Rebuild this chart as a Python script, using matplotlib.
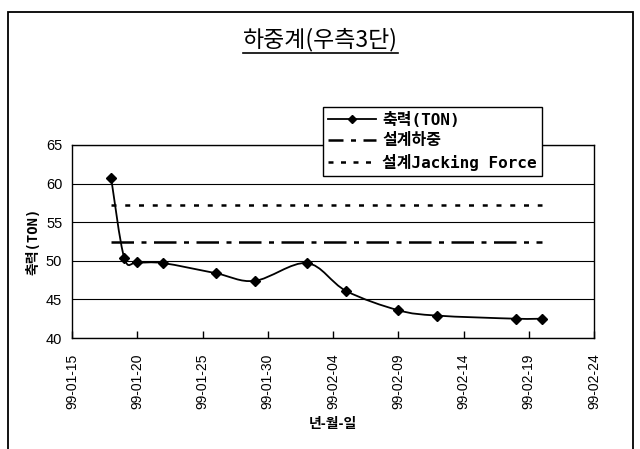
import matplotlib
matplotlib.use("Agg")
import matplotlib.pyplot as plt
import matplotlib.dates as mdates
from matplotlib.path import Path
from matplotlib.patches import PathPatch, Rectangle
from matplotlib.lines import Line2D
import numpy as np
import datetime as dt

# Measured axial force of load cell (right side, 3rd stage)
dates = ["1999-01-18", "1999-01-19", "1999-01-20", "1999-01-22", "1999-01-26",
         "1999-01-29", "1999-02-02", "1999-02-05", "1999-02-09", "1999-02-12",
         "1999-02-18", "1999-02-20"]
axial_force = [60.7, 50.4, 49.8, 49.7, 48.4, 47.4, 49.7, 46.1, 43.6, 42.9, 42.5, 42.5]
design_load = 52.5
design_jacking = 57.2

title = "하중계(우측3단)"
xlabel = "년-월-일"
ylabel = "축력(TON)"
legend_labels = ["축력(TON)", "설계하중", "설계Jacking Force"]
yticks = [40, 45, 50, 55, 60, 65]

KR = ["Noto Sans CJK KR", "DejaVu Sans"]
NUM = ["Liberation Sans", "DejaVu Sans"]
MONO = ["DejaVu Sans Mono", "Noto Sans CJK KR"]

fig = plt.figure(figsize=(6.4, 4.49), dpi=100)
fig.patch.set_facecolor("white")

# outer chart frame
fig.add_artist(Rectangle((8 / 640, -0.01), (633 - 8) / 640, 1 - 11.5 / 449 + 0.01,
                         transform=fig.transFigure, fill=False, edgecolor="black", lw=1.3))

ax = fig.add_axes([72 / 640, 1 - 338 / 449, (594 - 72) / 640, (338 - 145) / 449])

x = mdates.date2num([dt.datetime.strptime(d, "%Y-%m-%d") for d in dates])
y = np.array(axial_force)

# smoothed curve through the points (Catmull-Rom segments as cubic Beziers)
pts = np.column_stack([x, y])
verts = [pts[0]]
codes = [Path.MOVETO]
n = len(pts)
for i in range(n - 1):
    p0 = pts[i - 1] if i > 0 else pts[i]
    p1 = pts[i]
    p2 = pts[i + 1]
    p3 = pts[i + 2] if i + 2 < n else pts[i + 1]
    c1 = p1 + (p2 - p0) / 6.0
    c2 = p2 - (p3 - p1) / 6.0
    verts += [c1, c2, p2]
    codes += [Path.CURVE4] * 3
ax.add_patch(PathPatch(Path(verts, codes), fill=False, edgecolor="black", lw=1.3, zorder=4))
ax.plot(x, y, linestyle="none", marker="D", markersize=5, color="black", zorder=5)

ax.plot([x[0], x[-1]], [design_load, design_load], color="black", lw=1.8,
        dashes=(9, 3, 2, 3), zorder=3)
ax.plot([x[0], x[-1]], [design_jacking, design_jacking], color="black", lw=1.8,
        dashes=(2, 3.5), zorder=3)

start = mdates.date2num(dt.datetime(1999, 1, 15))
end = mdates.date2num(dt.datetime(1999, 2, 24))
ax.set_xlim(start, end)
ax.set_ylim(40, 65)
ax.set_xticks(np.arange(start, end + 0.1, 5))
ax.xaxis.set_major_formatter(mdates.DateFormatter("%y-%m-%d"))
ax.set_yticks(yticks)
ax.grid(axis="y", color="black", lw=0.8)
ax.set_axisbelow(True)
for s in ax.spines.values():
    s.set_linewidth(1.0)
ax.tick_params(axis="x", direction="in", length=5, width=1, labelrotation=90, pad=11)
ax.tick_params(axis="y", length=0, pad=7)
for lab in ax.get_xticklabels():
    lab.set_family(NUM)
    lab.set_fontsize(10)
for lab in ax.get_yticklabels():
    lab.set_family(NUM)
    lab.set_fontsize(10.5)

ax.set_xlabel(xlabel, family=KR, fontsize=10, fontweight="bold", labelpad=6)
ax.set_ylabel(ylabel, family=MONO, fontsize=10, fontweight="bold", labelpad=4)

ttl = fig.text(0.5, 1 - 40 / 449, title, family=KR, fontsize=16.5, ha="center", va="center")
fig.canvas.draw()
bb = ttl.get_window_extent().transformed(fig.transFigure.inverted())
fig.add_artist(Line2D([bb.x0, bb.x1], [1 - 53 / 449, 1 - 53 / 449],
                      transform=fig.transFigure, color="black", lw=1.2))

handles = [
    Line2D([], [], color="black", lw=1.3, marker="D", markersize=4),
    Line2D([], [], color="black", lw=1.8, dashes=(6, 3, 2, 3)),
    Line2D([], [], color="black", lw=1.8, dashes=(2, 3)),
]
leg = fig.legend(handles, legend_labels, loc="upper left",
                 bbox_to_anchor=(323 / 640, 1 - 107 / 449),
                 prop={"family": MONO, "size": 11.5, "weight": "bold"},
                 frameon=True, fancybox=False, edgecolor="black", framealpha=1,
                 handlelength=3.0, handletextpad=0.4, borderpad=0.3, labelspacing=0.35,
                 borderaxespad=0)
leg.get_frame().set_linewidth(1.0)
leg.set_zorder(10)

fig.savefig("out.png", dpi=100, facecolor="white")
